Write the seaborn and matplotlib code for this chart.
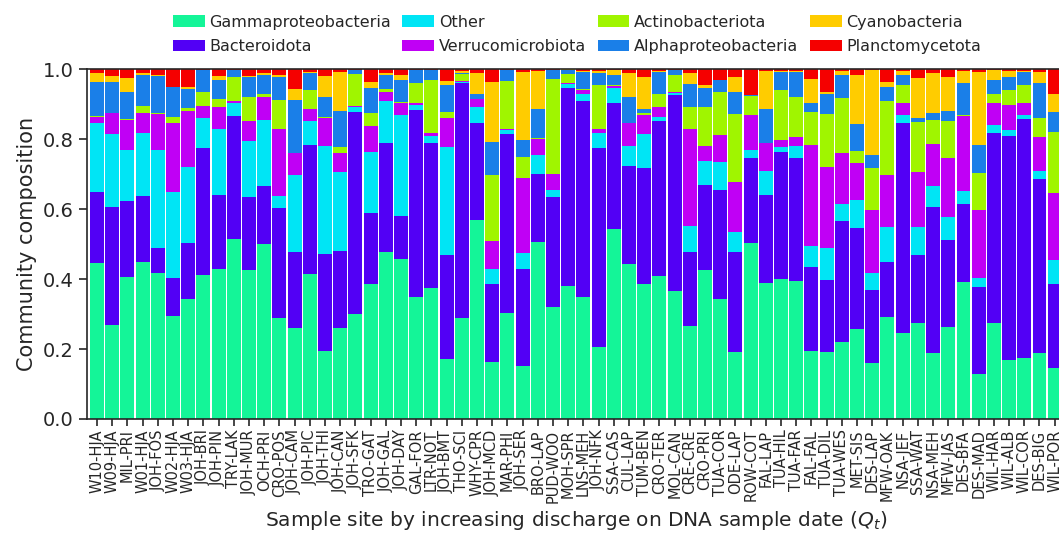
# Stacked community composition bars, one per sample site

import numpy as np
import pandas as pd
import seaborn as sns
import matplotlib
import matplotlib.pyplot as plt
from matplotlib.patches import Patch

matplotlib.use('Agg')

# Data

sites = [
    "W10-HJA", "W09-HJA", "MIL-PRI", "W01-HJA", "JOH-FOS", "W02-HJA", "W03-HJA", "JOH-BRI",
    "JOH-PIN", "TRY-LAK", "JOH-MUR", "OCH-PRI", "CRO-POS", "JOH-CAM", "JOH-PIC", "JOH-THI",
    "JOH-CAN", "JOH-SFK", "TRO-GAT", "JOH-GAL", "JOH-DAY", "GAL-FOR", "LTR-NOT", "JOH-BMT",
    "THO-SCI", "WHY-CPR", "JOH-MCD", "MAR-PHI", "JOH-SER", "BRO-LAP", "PUD-WOO", "MOH-SPR",
    "LNS-MEH", "JOH-NFK", "SSA-CAS", "CUL-LAP", "TUM-BEN", "CRO-TER", "MOL-CAN", "CRE-CRE",
    "CRO-PRI", "TUA-COR", "ODE-LAP", "ROW-COT", "FAL-LAP", "TUA-HIL", "TUA-FAR", "FAL-FAL",
    "TUA-DIL", "TUA-WES", "MET-SIS", "DES-LAP", "MFW-OAK", "NSA-JEF", "SSA-WAT", "NSA-MEH",
    "MFW-JAS", "DES-BFA", "DES-MAD", "WIL-HAR", "WIL-ALB", "WIL-COR", "DES-BIG", "WIL-POR",
]

gamma = [
    .447, .269, .405, .450, .418, .295, .344, .411, .430, .514, .427, .500, .290, .261, .413, .195,
    .259, .300, .385, .478, .456, .350, .373, .171, .290, .570, .162, .304, .151, .507, .319, .380,
    .348, .207, .542, .443, .386, .408, .367, .267, .427, .342, .192, .502, .389, .399, .395, .195,
    .192, .221, .256, .161, .292, .247, .273, .188, .262, .392, .128, .275, .168, .173, .188, .147,
]
bacteroidota = [
    .203, .338, .218, .187, .070, .107, .160, .362, .210, .352, .206, .166, .312, .217, .370, .276,
    .222, .576, .203, .310, .125, .533, .415, .299, .669, .277, .224, .510, .279, .192, .316, .565,
    .561, .568, .362, .280, .330, .444, .559, .211, .241, .312, .284, .243, .251, .365, .352, .238,
    .205, .346, .291, .209, .158, .600, .195, .419, .249, .222, .250, .543, .640, .683, .498, .239,
]
other = [
    .195, .207, .146, .181, .281, .246, .215, .086, .190, .036, .161, .188, .035, .219, .068, .309,
    .226, .016, .174, .121, .287, .014, .020, .306, .005, .045, .042, .012, .043, .055, .019, .012,
    .021, .043, .041, .057, .098, .012, .006, .073, .070, .081, .059, .025, .068, .012, .033, .061,
    .091, .047, .079, .048, .099, .021, .080, .060, .065, .038, .024, .022, .019, .012, .022, .068,
]
verrucomicrobiota = [
    .017, .059, .085, .057, .102, .197, .162, .035, .062, .006, .058, .065, .193, .062, .034, .079,
    .052, .002, .076, .024, .034, .005, .010, .083, .002, .021, .081, .003, .217, .046, .045, .002,
    .010, .010, .006, .065, .056, .028, .003, .277, .043, .076, .143, .098, .080, .021, .027, .289,
    .231, .147, .106, .179, .148, .036, .159, .118, .169, .214, .195, .062, .070, .036, .099, .193,
]
actinobacteriota = [
    .004, .002, .002, .019, .004, .017, .007, .041, .021, .070, .067, .011, .081, .002, .055, .003,
    .017, .092, .035, .009, .005, .059, .152, .019, .019, .002, .188, .138, .060, .004, .272, .028,
    .002, .126, .002, .002, .005, .038, .048, .064, .111, .124, .193, .055, .002, .143, .114, .095,
    .152, .155, .035, .121, .212, .050, .143, .069, .106, .002, .107, .028, .043, .050, .052, .174,
]
alphaproteobacteria = [
    .098, .089, .077, .089, .105, .086, .054, .062, .055, .019, .059, .053, .067, .150, .050, .059,
    .105, .011, .074, .041, .061, .036, .027, .076, .005, .015, .095, .030, .047, .082, .026, .011,
    .050, .034, .030, .072, .012, .062, .014, .065, .053, .033, .062, .002, .095, .052, .071, .024,
    .059, .067, .076, .036, .039, .029, .009, .019, .029, .091, .079, .040, .038, .038, .102, .057,
]
cyanobacteria = [
    .026, .017, .042, .005, .003, .001, .007, .001, .012, .001, .002, .007, .005, .031, .002, .059,
    .111, .001, .015, .005, .015, .001, .001, .012, .005, .058, .172, .001, .195, .108, .001, .001,
    .003, .005, .014, .071, .091, .003, .001, .033, .009, .002, .043, .002, .109, .003, .003, .069,
    .003, .012, .140, .243, .016, .011, .114, .115, .098, .036, .209, .027, .017, .003, .031, .050,
]
planctomycetota = [
    .010, .019, .025, .012, .017, .051, .051, .002, .020, .002, .020, .010, .017, .058, .008, .020,
    .008, .002, .038, .012, .017, .002, .002, .034, .005, .012, .036, .002, .008, .006, .002, .001,
    .005, .007, .003, .010, .022, .005, .002, .010, .046, .030, .024, .073, .006, .005, .005, .029,
    .067, .005, .017, .003, .036, .006, .027, .012, .022, .005, .008, .003, .005, .005, .008, .072,
]

taxa = [
    "Gammaproteobacteria", "Bacteroidota", "Other", "Verrucomicrobiota",
    "Actinobacteriota", "Alphaproteobacteria", "Cyanobacteria", "Planctomycetota",
]
colors = ["#14F598", "#5200F5", "#00E5F5", "#C000F5", "#A0F500", "#1A7FE8", "#FFCC00", "#F50000"]

df = pd.DataFrame({
    "Site": sites,
    "Gammaproteobacteria": gamma,
    "Bacteroidota": bacteroidota,
    "Other": other,
    "Verrucomicrobiota": verrucomicrobiota,
    "Actinobacteriota": actinobacteriota,
    "Alphaproteobacteria": alphaproteobacteria,
    "Cyanobacteria": cyanobacteria,
    "Planctomycetota": planctomycetota,
})

# cumulative tops, normalised so each bar sums to 1
df_cum = df[taxa].cumsum(axis=1)
df_cum = df_cum.div(df_cum[taxa[-1]], axis=0)
df_cum["Site"] = df["Site"]

# Plot

sns.set_style("ticks")
plt.rcParams['font.family'] = ['DejaVu Sans']

fig = plt.figure(figsize=(10.59, 5.38), dpi=100)
ax = fig.add_axes([0.0822, 0.2212, 0.9235, 0.6505])

# draw tallest cumulative first so lower layers sit on top
for taxon, color in reversed(list(zip(taxa, colors))):
    sns.barplot(
        data=df_cum, x="Site", y=taxon, order=sites,
        color=color, saturation=1, width=0.92, linewidth=0,
        errorbar=None, ax=ax
    )

ax.set_xlim(-0.658, 63.68)
ax.set_ylim(0, 1)
ax.set_yticks([0, 0.2, 0.4, 0.6, 0.8, 1.0])
ax.set_yticklabels(["0.0", "0.2", "0.4", "0.6", "0.8", "1.0"])

ax.tick_params(axis='x', labelrotation=90, labelsize=10.5, length=5, width=1.2, pad=2.5)
ax.tick_params(axis='y', labelsize=14, length=6, width=1.2)
for s in ax.spines.values():
    s.set_linewidth(1.2)
    s.set_visible(True)

ax.set_ylabel("Community composition", fontsize=15)
ax.set_xlabel("Sample site by increasing discharge on DNA sample date ($Q_t$)", fontsize=14.5, labelpad=5)

# legend above the plot
handles = [Patch(facecolor=c, edgecolor='none', label=t) for t, c in zip(taxa, colors)]
fig.legend(
    handles=handles, loc="center", bbox_to_anchor=(577 / 1059, 0.936),
    ncol=4, frameon=False, fontsize=11.5, handletextpad=0.3,
    columnspacing=0.7, labelspacing=0.6
)

plt.savefig("out.png", dpi=100)
plt.close("all")
